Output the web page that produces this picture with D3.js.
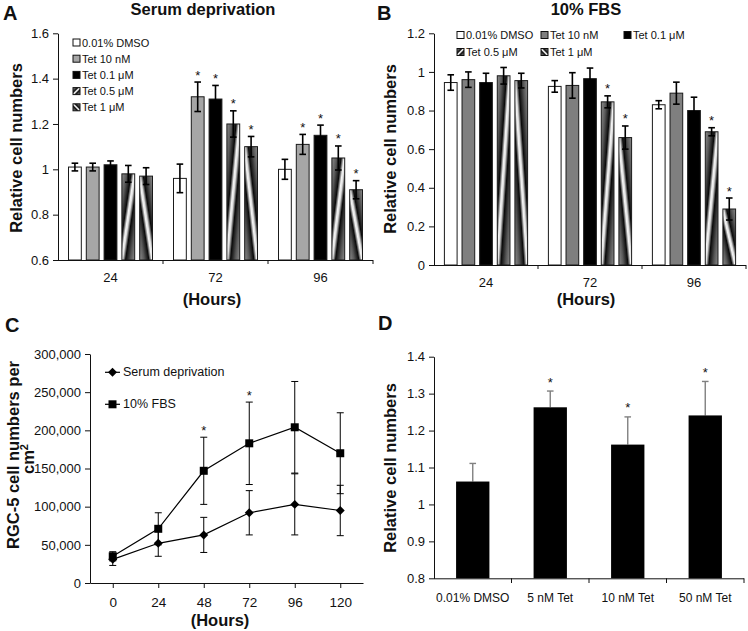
<!DOCTYPE html>
<html><head><meta charset="utf-8">
<script src="https://cdn.jsdelivr.net/npm/d3@7"></script>
<style>
body{margin:0;background:#fff}
svg{display:block}
text{font-family:"Liberation Sans",Arial,Helvetica,sans-serif;fill:#111}
</style>
</head><body>
<svg id="c" width="748" height="631"></svg>
<script>
// ---------- DATA ----------
const seriesNames = ["0.01% DMSO", "Tet 10 nM", "Tet 0.1 μM", "Tet 0.5 μM", "Tet 1 μM"];
const hoursAB = ["24", "72", "96"];
// Panel A (serum deprivation): rows = series, columns = hours
const aMeans = [
  [1.01, 0.96, 1.00],
  [1.01, 1.32, 1.11],
  [1.02, 1.31, 1.15],
  [0.98, 1.20, 1.05],
  [0.97, 1.10, 0.91]
];
const aErrs = [
  [0.017, 0.063, 0.044],
  [0.017, 0.065, 0.044],
  [0.017, 0.060, 0.045],
  [0.037, 0.058, 0.053],
  [0.037, 0.045, 0.040]
];
const aStars = [
  [0, 0, 0],
  [0, 1, 1],
  [0, 1, 1],
  [0, 1, 1],
  [0, 1, 1]
];
const aTicks = [0.6, 0.8, 1.0, 1.2, 1.4, 1.6];
// Panel B (10% FBS)
const bMeans = [
  [0.945, 0.925, 0.83],
  [0.96, 0.93, 0.89],
  [0.945, 0.965, 0.80],
  [0.98, 0.845, 0.69],
  [0.955, 0.66, 0.29]
];
const bErrs = [
  [0.04, 0.03, 0.021],
  [0.04, 0.066, 0.057],
  [0.048, 0.055, 0.069],
  [0.043, 0.031, 0.021],
  [0.038, 0.06, 0.057]
];
const bStars = [
  [0, 0, 0],
  [0, 0, 0],
  [0, 0, 0],
  [0, 1, 1],
  [0, 1, 1]
];
const bTicks = [0, 0.2, 0.4, 0.6, 0.8, 1.0, 1.2];
// Panel C (growth curves)
const hoursC = ["0", "24", "48", "72", "96", "120"];
const cSerumNames = ["Serum deprivation", "10% FBS"];
const cSerum = [31000, 52000, 63000, 92000, 103000, 95000];
const cSerumErr = [8000, 17000, 23000, 29000, 40000, 33000];
const cFBS = [35000, 71000, 147000, 183000, 204000, 170000];
const cFBSErr = [6000, 21000, 44000, 54000, 60000, 53000];
const cStars = [0, 0, 1, 1, 0, 0];
const cTicks = [0, 50000, 100000, 150000, 200000, 250000, 300000];
// Panel D
const dCats = ["0.01% DMSO", "5 nM Tet", "10 nM Tet", "50 nM Tet"];
const dMeans = [1.062, 1.263, 1.162, 1.241];
const dErrs = [0.049, 0.044, 0.075, 0.092];
const dStars = [0, 1, 1, 1];
const dTicks = [0.8, 0.9, 1.0, 1.1, 1.2, 1.3, 1.4];

// ---------- DRAWING ----------
const svg = d3.select("#c");
const defs = svg.append("defs");
const gradStops = [[0, "#8c8c8c"], [0.18, "#5a5a5a"], [0.36, "#0a0a0a"], [0.47, "#f5f5f5"], [0.53, "#e0e0e0"], [0.64, "#0a0a0a"], [0.82, "#555"], [1, "#8c8c8c"]];
function makeGrad(id, x1, y1, x2, y2) {
  const g = defs.append("linearGradient").attr("id", id)
    .attr("x1", x1).attr("y1", y1).attr("x2", x2).attr("y2", y2);
  gradStops.forEach(s => g.append("stop").attr("offset", s[0]).attr("stop-color", s[1]));
}
makeGrad("g05", 0, 0, 1, 1);
makeGrad("g1", 0, 1, 1, 0);

const fmtDec = d => d3.format(".1f")(d).replace(/\.0$/, "");

function styleAxis(g, fs) {
  g.selectAll("path,line").attr("stroke", "#111").attr("stroke-width", 1);
  g.selectAll("text").attr("font-size", fs).attr("fill", "#111").style("font-family", '"Liberation Sans",Arial,sans-serif');
}

function vText(x, y, txt, fs) {
  return svg.append("text").attr("transform", `translate(${x},${y}) rotate(-90)`)
    .attr("text-anchor", "middle").attr("dominant-baseline", "central")
    .attr("font-size", fs).attr("font-weight", "bold").text(txt);
}

function barPanel(o) {
  const y = d3.scaleLinear().domain([o.ticks[0], o.ticks[o.ticks.length - 1]]).range([o.yBot, o.yTop]);
  const xo = d3.scaleBand().domain(hoursAB).range([o.x0, o.x1]).paddingInner(0.2).paddingOuter(0.1);
  const xi = d3.scaleBand().domain(d3.range(seriesNames.length)).range([0, xo.bandwidth()]).paddingInner(0.28);
  const g = svg.append("g");
  seriesNames.forEach((s, si) => {
    hoursAB.forEach((h, hi) => {
      const v = o.means[si][hi], e = o.errs[si][hi];
      const bx = xo(h) + xi(si), bw = xi.bandwidth();
      g.append("rect").attr("x", bx).attr("y", y(v)).attr("width", bw).attr("height", y(o.ticks[0]) - y(v))
        .attr("fill", o.fills[si]).attr("stroke", "#1a1a1a").attr("stroke-width", 1);
      const cx = bx + bw / 2;
      g.append("line").attr("x1", cx).attr("x2", cx).attr("y1", y(v - e)).attr("y2", y(v + e)).attr("stroke", "#000").attr("stroke-width", 1.6);
      [v - e, v + e].forEach(t => g.append("line").attr("x1", cx - 3.3).attr("x2", cx + 3.3).attr("y1", y(t)).attr("y2", y(t)).attr("stroke", "#000").attr("stroke-width", 1.6));
      if (o.stars[si][hi]) g.append("text").attr("x", cx).attr("y", y(v + e) - 2.5).attr("text-anchor", "middle").attr("font-size", 13).text("*");
    });
  });
  const ya = g.append("g").attr("transform", `translate(${o.x0},0)`)
    .call(d3.axisLeft(y).tickValues(o.ticks).tickSize(5).tickSizeOuter(0).tickPadding(4).tickFormat(fmtDec));
  styleAxis(ya, 13);
  const xa = g.append("g").attr("transform", `translate(0,${o.yBot})`)
    .call(d3.axisBottom(xo).tickSize(0).tickSizeOuter(0).tickPadding(13));
  styleAxis(xa, 13);
  xa.select(".domain").attr("d", `M${o.x0},0.5H${o.x1}`);
  d3.range(1, hoursAB.length + 1).forEach(i => {
    const tx = o.x0 + i * xo.step();
    g.append("line").attr("x1", tx).attr("x2", tx).attr("y1", o.yBot).attr("y2", o.yBot + 4).attr("stroke", "#111");
  });
  return {y, xo};
}

const fillsA = ["#ffffff", "#a6a6a6", "#000000", "url(#g05)", "url(#g1)"];
const fillsB = ["#ffffff", "#7f7f7f", "#000000", "url(#g05)", "url(#g1)"];

barPanel({x0: 58, x1: 373, yTop: 33.3, yBot: 260, ticks: aTicks, means: aMeans, errs: aErrs, stars: aStars, fills: fillsA});
barPanel({x0: 434, x1: 746, yTop: 33.3, yBot: 265, ticks: bTicks, means: bMeans, errs: bErrs, stars: bStars, fills: fillsB});

// legends A, B
seriesNames.forEach((s, i) => {
  const lx = 73, ly = 42.5 + i * 16.2;
  svg.append("rect").attr("x", lx).attr("y", ly - 3.5).attr("width", 7).attr("height", 7).attr("fill", fillsA[i]).attr("stroke", "#111").attr("stroke-width", 1);
  svg.append("text").attr("x", lx + 9).attr("y", ly).attr("dominant-baseline", "central").attr("font-size", 11).text(s);
});
const legBpos = [[457, 35], [541, 35], [624, 35], [457, 52], [541, 52]];
seriesNames.forEach((s, i) => {
  const [lx, ly] = legBpos[i];
  svg.append("rect").attr("x", lx).attr("y", ly - 3.5).attr("width", 7).attr("height", 7).attr("fill", fillsB[i]).attr("stroke", "#111").attr("stroke-width", 1);
  svg.append("text").attr("x", lx + 9).attr("y", ly).attr("dominant-baseline", "central").attr("font-size", 11).text(s);
});

// titles A/B
svg.append("text").attr("x", 203).attr("y", 15).attr("text-anchor", "middle").attr("font-size", 16.5).attr("font-weight", "bold").text("Serum deprivation");
svg.append("text").attr("x", 586).attr("y", 15).attr("text-anchor", "middle").attr("font-size", 16.5).attr("font-weight", "bold").text("10% FBS");
svg.append("text").attr("x", 212).attr("y", 305).attr("text-anchor", "middle").attr("font-size", 16.5).attr("font-weight", "bold").text("(Hours)");
svg.append("text").attr("x", 586).attr("y", 305).attr("text-anchor", "middle").attr("font-size", 16.5).attr("font-weight", "bold").text("(Hours)");
vText(16, 148, "Relative cell numbers", 16.5);
vText(390, 149, "Relative cell numbers", 16.5);

// ---------- Panel C ----------
{
  const x = d3.scalePoint().domain(hoursC).range([90, 363]).padding(0.5);
  const y = d3.scaleLinear().domain([0, 300000]).range([583, 354]);
  const g = svg.append("g");
  const ya = g.append("g").attr("transform", "translate(90,0)")
    .call(d3.axisLeft(y).tickValues(cTicks).tickSize(5).tickSizeOuter(0).tickPadding(4).tickFormat(d3.format(",")));
  styleAxis(ya, 13);
  const xa = g.append("g").attr("transform", "translate(0,583)")
    .call(d3.axisBottom(x).tickSize(5).tickSizeOuter(0).tickPadding(9));
  styleAxis(xa, 13.5);
  const line = d3.line().x((d, i) => x(hoursC[i])).y(d => y(d));
  const series = [
    {vals: cSerum, errs: cSerumErr, sym: "diamond"},
    {vals: cFBS, errs: cFBSErr, sym: "square"}
  ];
  series.forEach(s => {
    s.vals.forEach((v, i) => {
      const cx = x(hoursC[i]);
      g.append("line").attr("x1", cx).attr("x2", cx).attr("y1", y(v - s.errs[i])).attr("y2", y(v + s.errs[i])).attr("stroke", "#000").attr("stroke-width", 1);
      [v - s.errs[i], v + s.errs[i]].forEach(t => g.append("line").attr("x1", cx - 3.5).attr("x2", cx + 3.5).attr("y1", y(t)).attr("y2", y(t)).attr("stroke", "#000").attr("stroke-width", 1));
    });
  });
  series.forEach(s => {
    g.append("path").attr("d", line(s.vals)).attr("fill", "none").attr("stroke", "#000").attr("stroke-width", 1.2);
  });
  const marker = (sym, cx, cy) => {
    if (sym === "square") g.append("path").attr("d", d3.symbol(d3.symbolSquare, 64)()).attr("transform", `translate(${cx},${cy})`).attr("fill", "#000");
    else g.append("path").attr("d", d3.symbol(d3.symbolSquare, 40)()).attr("transform", `translate(${cx},${cy}) rotate(45)`).attr("fill", "#000");
  };
  series.forEach(s => s.vals.forEach((v, i) => marker(s.sym, x(hoursC[i]), y(v))));
  cStars.forEach((st, i) => {
    if (st) g.append("text").attr("x", x(hoursC[i])).attr("y", y(cFBS[i] + cFBSErr[i]) - 2.5).attr("text-anchor", "middle").attr("font-size", 13).text("*");
  });
  [[372.3, "diamond"], [404.3, "square"]].forEach((L, i) => {
    g.append("line").attr("x1", 105).attr("x2", 120).attr("y1", L[0]).attr("y2", L[0]).attr("stroke", "#000").attr("stroke-width", 1.2);
    marker(L[1], 112.5, L[0]);
    g.append("text").attr("x", 123).attr("y", L[0]).attr("dominant-baseline", "central").attr("font-size", 12.5).text(cSerumNames[i]);
  });
  svg.append("text").attr("x", 220).attr("y", 626).attr("text-anchor", "middle").attr("font-size", 16.5).attr("font-weight", "bold").text("(Hours)");
  vText(13, 455, "RGC-5 cell numbers per", 16.5);
  const t2 = svg.append("text").attr("transform", "translate(28,459) rotate(-90)")
    .attr("text-anchor", "middle").attr("font-size", 16.5).attr("font-weight", "bold");
  t2.append("tspan").attr("dy", "0.35em").text("cm");
  t2.append("tspan").attr("dy", "-0.55em").attr("font-size", 11).text("2");
}

// ---------- Panel D ----------
{
  const x = d3.scaleBand().domain(dCats).range([434, 744]).paddingInner(0.57).paddingOuter(0.285);
  const y = d3.scaleLinear().domain([0.8, 1.4]).range([578.3, 356.7]);
  const g = svg.append("g");
  dCats.forEach((c, i) => {
    const v = dMeans[i], e = dErrs[i];
    const cx = x(c) + x.bandwidth() / 2;
    g.append("line").attr("x1", cx).attr("x2", cx).attr("y1", y(v)).attr("y2", y(v + e)).attr("stroke", "#808080").attr("stroke-width", 1.4);
    g.append("line").attr("x1", cx - 3.3).attr("x2", cx + 3.3).attr("y1", y(v + e)).attr("y2", y(v + e)).attr("stroke", "#808080").attr("stroke-width", 1.4);
    g.append("rect").attr("x", x(c)).attr("y", y(v)).attr("width", x.bandwidth()).attr("height", y(0.8) - y(v)).attr("fill", "#000");
    if (dStars[i]) g.append("text").attr("x", cx).attr("y", y(v + e) - 4.5).attr("text-anchor", "middle").attr("font-size", 13).text("*");
  });
  const ya = g.append("g").attr("transform", "translate(434,0)")
    .call(d3.axisLeft(y).tickValues(dTicks).tickSize(5).tickSizeOuter(0).tickPadding(4).tickFormat(fmtDec));
  styleAxis(ya, 13);
  const xa = g.append("g").attr("transform", "translate(0,578.3)")
    .call(d3.axisBottom(x).tickSize(0).tickSizeOuter(0).tickPadding(15));
  styleAxis(xa, 12);
  xa.select(".domain").attr("d", "M434,0.5H744");
  d3.range(1, dCats.length + 1).forEach(i => {
    const tx = 434 + i * x.step();
    g.append("line").attr("x1", tx).attr("x2", tx).attr("y1", 578.3).attr("y2", 583).attr("stroke", "#111");
  });
  vText(390, 468, "Relative cell numbers", 16.5);
}

// panel letters
[["A", 3, 20], ["B", 377, 20], ["C", 5, 332], ["D", 378, 330]].forEach(L => {
  svg.append("text").attr("x", L[1]).attr("y", L[2]).attr("font-size", 20).attr("font-weight", "bold").text(L[0]);
});
</script>
</body></html>
